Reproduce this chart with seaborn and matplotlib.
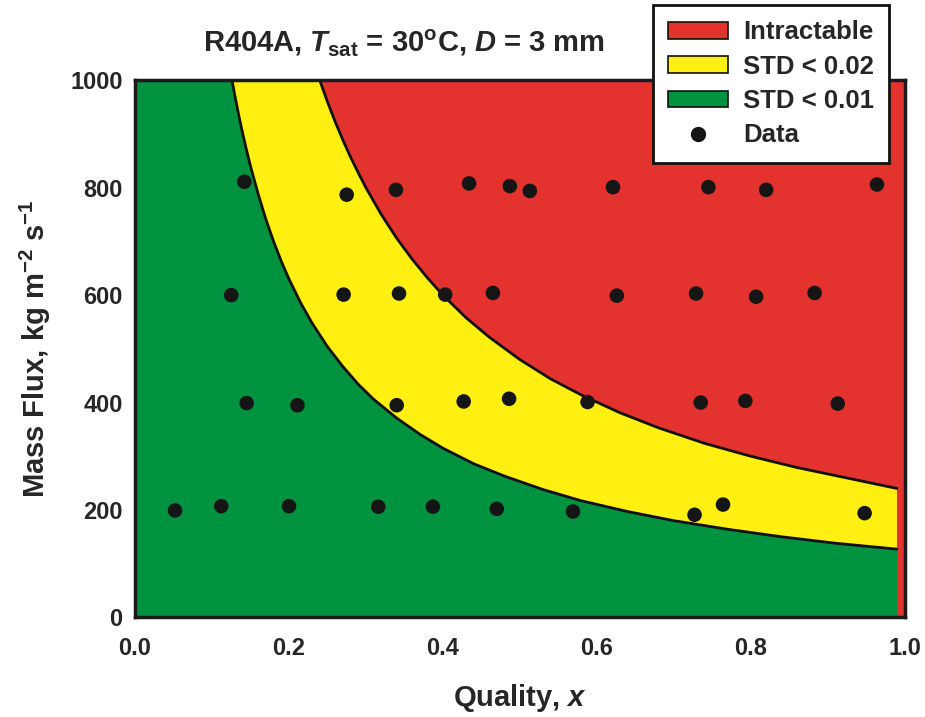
import numpy as np
import matplotlib
matplotlib.use("Agg")
import matplotlib.pyplot as plt
import seaborn as sns
from matplotlib.patches import Patch
from matplotlib.lines import Line2D

# ---------- DATA ----------
# boundary STD < 0.01 / STD < 0.02 (quality, mass flux)
lower_x = [0.126, 0.13, 0.135, 0.14, 0.145, 0.15, 0.16, 0.17, 0.18, 0.19, 0.20, 0.215, 0.23,
           0.25, 0.27, 0.29, 0.31, 0.34, 0.37, 0.40, 0.44, 0.48, 0.53, 0.58, 0.64, 0.70,
           0.77, 0.84, 0.91, 0.99]
lower_G = [1000, 969, 933, 900, 869, 840, 788, 741, 700, 663, 630, 586, 548,
           504, 467, 434, 406, 371, 341, 315, 286, 263, 238, 217, 197, 180,
           164, 150, 138, 127]

# boundary STD < 0.02 / intractable
upper_x = [0.240, 0.245, 0.25, 0.26, 0.27, 0.28, 0.29, 0.30, 0.32, 0.34, 0.36, 0.38, 0.40,
           0.43, 0.46, 0.50, 0.54, 0.58, 0.63, 0.68, 0.74, 0.80, 0.86, 0.92, 0.99]
upper_G = [1000, 980, 960, 923, 889, 857, 828, 800, 750, 706, 667, 632, 600,
           558, 522, 480, 444, 414, 381, 353, 324, 300, 279, 261, 240]

# measured data points
data_x = [0.142, 0.275, 0.339, 0.434, 0.487, 0.513, 0.621, 0.745, 0.820, 0.964,
          0.125, 0.271, 0.343, 0.403, 0.465, 0.626, 0.729, 0.807, 0.883,
          0.145, 0.211, 0.340, 0.427, 0.486, 0.588, 0.735, 0.793, 0.913,
          0.052, 0.112, 0.200, 0.316, 0.387, 0.470, 0.569, 0.727, 0.764, 0.948]
data_G = [811, 787, 796, 808, 803, 794, 801, 801, 796, 806,
          600, 601, 603, 601, 604, 599, 603, 597, 604,
          399, 395, 395, 402, 407, 401, 400, 403, 398,
          199, 207, 207, 206, 206, 202, 197, 191, 210, 194]

x_ticks = [0.0, 0.2, 0.4, 0.6, 0.8, 1.0]
y_ticks = [0, 200, 400, 600, 800, 1000]

RED = "#e4322e"
YELLOW = "#fff011"
GREEN = "#00933f"

# ---------- STYLE ----------
sns.set_style("white")
plt.rcParams["font.family"] = ["Liberation Sans", "DejaVu Sans"]
plt.rcParams["font.weight"] = "bold"
plt.rcParams["axes.labelweight"] = "bold"
plt.rcParams["mathtext.fontset"] = "custom"
plt.rcParams["mathtext.rm"] = "Liberation Sans:bold"
plt.rcParams["mathtext.bf"] = "Liberation Sans:bold"
plt.rcParams["mathtext.it"] = "Liberation Sans:italic:bold"

fig = plt.figure(figsize=(9.25, 7.17), dpi=100)
ax = fig.add_axes([0.146, 0.139, 0.832, 0.749])

# regions
ax.fill_between([0, 1], 0, 1000, color=RED, lw=0, zorder=1)
ax.fill_between([0] + lower_x, 0, [1000] + lower_G, color=GREEN, lw=0, zorder=2)
ax.fill(np.r_[lower_x, upper_x[::-1]], np.r_[lower_G, upper_G[::-1]], color=YELLOW, lw=0, zorder=2)
ax.plot(lower_x, lower_G, color="#111111", lw=2, zorder=3)
ax.plot(upper_x, upper_G, color="#111111", lw=2, zorder=3)

sns.scatterplot(x=data_x, y=data_G, color="#151515", s=110, edgecolor="none", ax=ax, zorder=4)

ax.set_xlim(0, 1)
ax.set_ylim(0, 1000)
ax.set_xticks(x_ticks)
ax.set_xticklabels([f"{t:.1f}" for t in x_ticks])
ax.set_yticks(y_ticks)
ax.tick_params(length=0, labelsize=17)
ax.tick_params(axis="x", pad=14)
ax.tick_params(axis="y", pad=9)
for sp in ax.spines.values():
    sp.set_linewidth(2.5)
    sp.set_color("#1a1a1a")
    sp.set_zorder(5)

ax.set_xlabel(r"Quality, $\mathit{x}$", fontsize=21, labelpad=16)
ax.set_ylabel(r"Mass Flux, kg m$^{\mathrm{-2}}$ s$^{\mathrm{-1}}$", fontsize=21, labelpad=12)

fig.text(0.437, 1 - 42 / 717,
         r"R404A, $\mathit{T}_{\mathrm{sat}}$ = 30$^{\mathrm{o}}$C, $\mathit{D}$ = 3 mm",
         fontsize=21, ha="center", va="center")

handles = [Patch(facecolor=RED, edgecolor="#111111", lw=1.2),
           Patch(facecolor=YELLOW, edgecolor="#111111", lw=1.2),
           Patch(facecolor=GREEN, edgecolor="#111111", lw=1.2),
           Line2D([], [], ls="none", marker="o", color="#151515", markersize=10)]
labels = ["Intractable", "STD < 0.02", "STD < 0.01", "Data"]
leg = fig.legend(handles, labels, loc="upper left", bbox_to_anchor=(653 / 925, 1 - 5 / 717),
                 fontsize=18.5, frameon=True, fancybox=False, framealpha=1,
                 handlelength=2.3, handleheight=0.6, handletextpad=0.6,
                 labelspacing=0.4, borderpad=0.6, borderaxespad=0)
leg.get_frame().set_edgecolor("#111111")
leg.get_frame().set_linewidth(2)
leg.set_zorder(10)

fig.savefig("out.png", dpi=100)
